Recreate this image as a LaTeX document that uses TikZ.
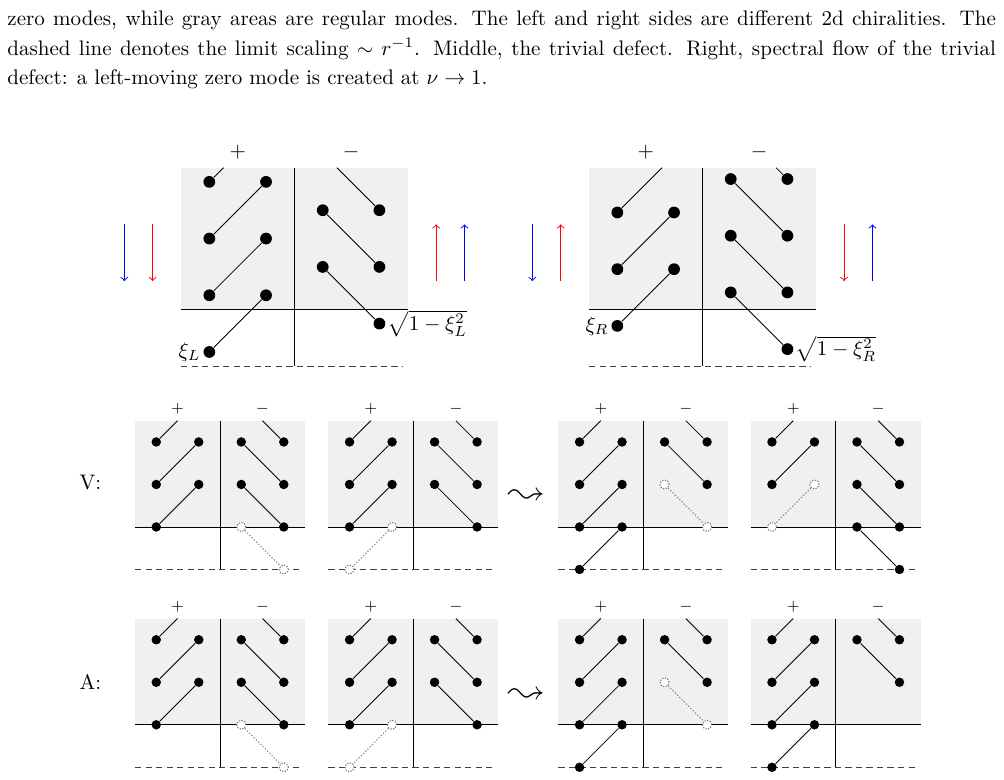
\documentclass[tikz,border=0pt]{standalone}
\usepackage{latexsym}
\tikzset{
 boxfill/.style={fill=black!6},
 axisline/.style={line width=0.45pt},
 limline/.style={line width=0.45pt, draw=black!75, dash pattern=on 3pt off 2pt},
 conn/.style={line width=0.4pt},
 gconn/.style={line width=0.5pt, draw=black!50, dash pattern=on 0.6pt off 0.9pt},
 bigdot/.style={circle, fill=black, inner sep=0pt, minimum size=5.6pt},
 smdot/.style={circle, fill=black, inner sep=0pt, minimum size=4.5pt},
 ghostdot/.style={circle, draw=black!55, fill=white, dash pattern=on 0.6pt off 0.7pt, line width=0.5pt, inner sep=0pt, minimum size=4.3pt},
 biglbl/.style={inner sep=0pt, font=\normalsize},
 smlbl/.style={inner sep=0pt, font=\fontsize{7.5}{9}\selectfont},
 flow/.style={line width=0.45pt, ->},
 captxt/.style={anchor=base west, inner sep=0pt, font=\normalsize},
}
\newcommand\sbase[1]{%
 \fill[boxfill] (0,0) rectangle (4,2.5);
 \draw[axisline] (2,0) -- (2,3.5);
 \draw[axisline] (0,2.5) -- (4,2.5);
 \draw[limline] (0,3.5) -- (3.9,3.5);
 \node[smlbl] (#1plus) at (1,-0.27) {$+$};
 \node[smlbl] (#1minus) at (3,-0.27) {$-$};
 \coordinate (#1tp) at (1,0);
 \coordinate (#1tm) at (3,0);
 \node[smdot] (#1a1) at (0.5,0.5) {};
 \node[smdot] (#1b1) at (1.5,0.5) {};
 \node[smdot] (#1a2) at (0.5,1.5) {};
 \node[smdot] (#1c1) at (2.5,0.5) {};
 \node[smdot] (#1d1) at (3.5,0.5) {};
 \node[smdot] (#1d2) at (3.5,1.5) {};
 \draw[conn] (#1tp) -- (#1a1);
 \draw[conn] (#1a2) -- (#1b1);
 \draw[conn] (#1tm) -- (#1d1);
 \draw[conn] (#1c1) -- (#1d2);
}
% diagram type 1
\newcommand\sdiagA[1]{%
 \sbase{#1}
 \node[smdot] (#1b2) at (1.5,1.5) {};
 \node[smdot] (#1a3) at (0.5,2.5) {};
 \draw[conn] (#1a3) -- (#1b2);
 \node[smdot] (#1c2) at (2.5,1.5) {};
 \node[smdot] (#1d3) at (3.5,2.5) {};
 \draw[conn] (#1c2) -- (#1d3);
 \node[ghostdot] (#1c3) at (2.5,2.5) {};
 \node[ghostdot] (#1d4) at (3.5,3.5) {};
 \draw[gconn] (#1c3) -- (#1d4);
}
% diagram type 2
\newcommand\sdiagB[1]{%
 \sbase{#1}
 \node[smdot] (#1b2) at (1.5,1.5) {};
 \node[smdot] (#1a3) at (0.5,2.5) {};
 \draw[conn] (#1a3) -- (#1b2);
 \node[ghostdot] (#1b3) at (1.5,2.5) {};
 \node[ghostdot] (#1a4) at (0.5,3.5) {};
 \draw[gconn] (#1b3) -- (#1a4);
 \node[smdot] (#1c2) at (2.5,1.5) {};
 \node[smdot] (#1d3) at (3.5,2.5) {};
 \draw[conn] (#1c2) -- (#1d3);
}
% diagram type 3
\newcommand\sdiagC[1]{%
 \sbase{#1}
 \node[smdot] (#1b2) at (1.5,1.5) {};
 \node[smdot] (#1a3) at (0.5,2.5) {};
 \draw[conn] (#1a3) -- (#1b2);
 \node[smdot] (#1b3) at (1.5,2.5) {};
 \node[smdot] (#1a4) at (0.5,3.5) {};
 \draw[conn] (#1a4) -- (#1b3);
 \node[ghostdot] (#1c2) at (2.5,1.5) {};
 \node[ghostdot] (#1d3) at (3.5,2.5) {};
 \draw[gconn] (#1c2) -- (#1d3);
}
\begin{document}
\begin{tikzpicture}[x=0.4752pt, y=-0.4752pt]
\useasboundingbox (0,0) rectangle (1004,779);
% caption
\node[captxt] (cap1) at (7,26) {\makebox[469.75pt][s]{zero modes, while gray areas are regular modes. The left and right sides are different 2d chiralities. The}};
\node[captxt] (cap2) at (7,55.2) {\makebox[469.75pt][s]{dashed line denotes the limit scaling $\sim r^{-1}$. Middle, the trivial defect. Right, spectral flow of the trivial}};
\node[captxt] (cap3) at (7,84.3) {defect: a left-moving zero mode is created at $\nu \to 1$.};

% top-left large diagram
\begin{scope}[shift={(181,167.7)}, x=26.94pt, y=-26.94pt]
 \fill[boxfill] (0,0) rectangle (4,2.5);
 \draw[axisline] (2,0) -- (2,3.5);
 \draw[axisline] (0,2.5) -- (4,2.5);
 \draw[limline] (0,3.5) -- (3.9,3.5);
 \node[biglbl] (Lplus) at (1,-0.265) {$+$};
 \node[biglbl] (Lminus) at (3,-0.265) {$-$};
 \coordinate (Ltp) at (0.75,0);
 \coordinate (Ltm) at (2.75,0);
 \node[bigdot] (La1) at (0.5,0.25) {};
 \node[bigdot] (La2) at (0.5,1.25) {};
 \node[bigdot] (La3) at (0.5,2.25) {};
 \node[bigdot] (La4) at (0.5,3.25) {};
 \node[bigdot] (Lb1) at (1.5,0.25) {};
 \node[bigdot] (Lb2) at (1.5,1.25) {};
 \node[bigdot] (Lb3) at (1.5,2.25) {};
 \node[bigdot] (Lc1) at (2.5,0.75) {};
 \node[bigdot] (Lc2) at (2.5,1.75) {};
 \node[bigdot] (Ld1) at (3.5,0.75) {};
 \node[bigdot] (Ld2) at (3.5,1.75) {};
 \node[bigdot] (Ld3) at (3.5,2.75) {};
 \draw[conn] (Ltp) -- (La1);
 \draw[conn] (La2) -- (Lb1);
 \draw[conn] (La3) -- (Lb2);
 \draw[conn] (La4) -- (Lb3);
 \draw[conn] (Ltm) -- (Ld1);
 \draw[conn] (Lc1) -- (Ld2);
 \draw[conn] (Lc2) -- (Ld3);
 \node[anchor=east, inner sep=1pt] (Lxi) at (La4.west) {$\xi_L$};
 \node[anchor=west, inner sep=0.8pt] (Lsq) at (Ld3.east) {$\sqrt{1-\xi_L^2}$};
 \coordinate (Lf1s) at (-1,1); \coordinate (Lf1e) at (-1,2);
 \coordinate (Lf2s) at (-0.5,1); \coordinate (Lf2e) at (-0.5,2);
 \coordinate (Lf3s) at (4.5,2); \coordinate (Lf3e) at (4.5,1);
 \coordinate (Lf4s) at (5,2); \coordinate (Lf4e) at (5,1);
 \draw[flow, blue] (Lf1s) -- (Lf1e);
 \draw[flow, red] (Lf2s) -- (Lf2e);
 \draw[flow, red] (Lf3s) -- (Lf3e);
 \draw[flow, blue] (Lf4s) -- (Lf4e);
\end{scope}

% top-right large diagram
\begin{scope}[shift={(589,167.7)}, x=26.94pt, y=-26.94pt]
 \fill[boxfill] (0,0) rectangle (4,2.5);
 \draw[axisline] (2,0) -- (2,3.5);
 \draw[axisline] (0,2.5) -- (4,2.5);
 \draw[limline] (0,3.5) -- (3.9,3.5);
 \node[biglbl] (Rplus) at (1,-0.265) {$+$};
 \node[biglbl] (Rminus) at (3,-0.265) {$-$};
 \coordinate (Rtp) at (1.29,0);
 \coordinate (Rtm) at (3.3,0);
 \node[bigdot] (Ra1) at (0.5,0.79) {};
 \node[bigdot] (Ra2) at (0.5,1.79) {};
 \node[bigdot] (Ra3) at (0.5,2.79) {};
 \node[bigdot] (Rb1) at (1.5,0.79) {};
 \node[bigdot] (Rb2) at (1.5,1.79) {};
 \node[bigdot] (Rc1) at (2.5,0.2) {};
 \node[bigdot] (Rc2) at (2.5,1.2) {};
 \node[bigdot] (Rc3) at (2.5,2.2) {};
 \node[bigdot] (Rd1) at (3.5,0.2) {};
 \node[bigdot] (Rd2) at (3.5,1.2) {};
 \node[bigdot] (Rd3) at (3.5,2.2) {};
 \node[bigdot] (Rd4) at (3.5,3.2) {};
 \draw[conn] (Rtp) -- (Ra1);
 \draw[conn] (Ra2) -- (Rb1);
 \draw[conn] (Ra3) -- (Rb2);
 \draw[conn] (Rtm) -- (Rd1);
 \draw[conn] (Rc1) -- (Rd2);
 \draw[conn] (Rc2) -- (Rd3);
 \draw[conn] (Rc3) -- (Rd4);
 \node[anchor=east, inner sep=1pt] (Rxi) at (Ra3.west) {$\xi_R$};
 \node[anchor=west, inner sep=0.8pt] (Rsq) at (Rd4.east) {$\sqrt{1-\xi_R^2}$};
 \coordinate (Rf1s) at (-1,1); \coordinate (Rf1e) at (-1,2);
 \coordinate (Rf2s) at (-0.5,2); \coordinate (Rf2e) at (-0.5,1);
 \coordinate (Rf3s) at (4.5,1); \coordinate (Rf3e) at (4.5,2);
 \coordinate (Rf4s) at (5,2); \coordinate (Rf4e) at (5,1);
 \draw[flow, blue] (Rf1s) -- (Rf1e);
 \draw[flow, red] (Rf2s) -- (Rf2e);
 \draw[flow, red] (Rf3s) -- (Rf3e);
 \draw[flow, blue] (Rf4s) -- (Rf4e);
\end{scope}

% V row
\node (Vlbl) at (90.5,482.5) {V:};
\begin{scope}[shift={(135,420.7)}, x=20.2pt, y=-20.2pt]\sdiagA{vA}\end{scope}
\begin{scope}[shift={(328.3,420.7)}, x=20.2pt, y=-20.2pt]\sdiagB{vB}\end{scope}
\node (Vsq) at (526.5,496.7) {\LARGE$\leadsto$};
\begin{scope}[shift={(558.3,420.7)}, x=20.2pt, y=-20.2pt]\sdiagC{vC}\end{scope}
\begin{scope}[shift={(750.7,420.7)}, x=20.2pt, y=-20.2pt]
 \sbase{vD}
 \node[ghostdot] (vDb2) at (1.5,1.5) {};
 \node[ghostdot] (vDa3) at (0.5,2.5) {};
 \draw[gconn] (vDb2) -- (vDa3);
 \node[smdot] (vDc2) at (2.5,1.5) {};
 \node[smdot] (vDd3) at (3.5,2.5) {};
 \draw[conn] (vDc2) -- (vDd3);
 \node[smdot] (vDc3) at (2.5,2.5) {};
 \node[smdot] (vDd4) at (3.5,3.5) {};
 \draw[conn] (vDc3) -- (vDd4);
\end{scope}

% A row
\node (Albl) at (90.5,681.7) {A:};
\begin{scope}[shift={(135,618.5)}, x=20.2pt, y=-20.2pt]\sdiagA{aA}\end{scope}
\begin{scope}[shift={(328.3,618.5)}, x=20.2pt, y=-20.2pt]\sdiagB{aB}\end{scope}
\node (Asq) at (526.5,696) {\LARGE$\leadsto$};
\begin{scope}[shift={(558.3,618.5)}, x=20.2pt, y=-20.2pt]\sdiagC{aC}\end{scope}
\begin{scope}[shift={(750.7,618.5)}, x=20.2pt, y=-20.2pt]
 \sbase{aD}
 \node[smdot] (aDb2) at (1.5,1.5) {};
 \node[smdot] (aDa3) at (0.5,2.5) {};
 \draw[conn] (aDa3) -- (aDb2);
 \node[smdot] (aDb3) at (1.5,2.5) {};
 \node[smdot] (aDa4) at (0.5,3.5) {};
 \draw[conn] (aDa4) -- (aDb3);
\end{scope}
\end{tikzpicture}
\end{document}
